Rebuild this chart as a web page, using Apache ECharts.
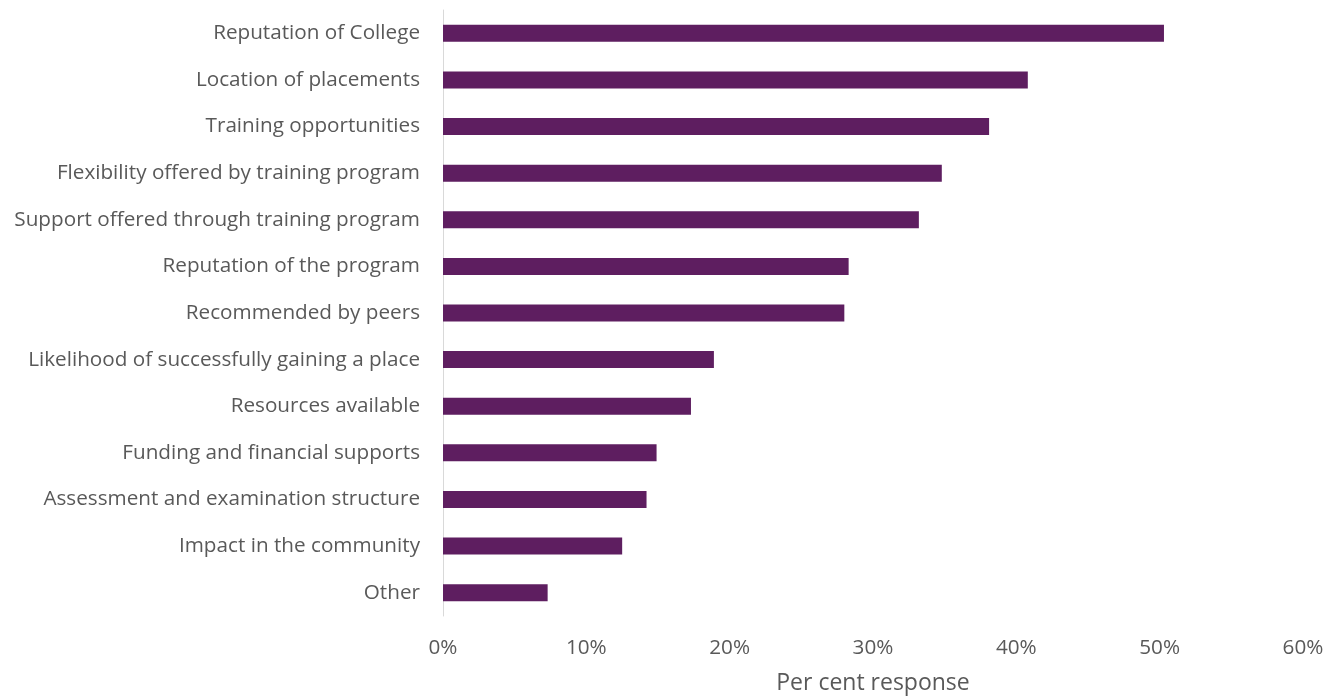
<!DOCTYPE html>
<html>
<head>
<meta charset="utf-8">
<script src="https://cdn.jsdelivr.net/npm/echarts@6/dist/echarts.min.js"></script>
<style>
  html, body { margin: 0; padding: 0; background: #fff; }
  #chart { width: 1327px; height: 700px; }
</style>
</head>
<body>
<div id="chart"></div>
<script>
// Reasons for choosing a training program, ordered top to bottom
const categories = [
  'Reputation of College',
  'Location of placements',
  'Training opportunities',
  'Flexibility offered by training program',
  'Support offered through training program',
  'Reputation of the program',
  'Recommended by peers',
  'Likelihood of successfully gaining a place',
  'Resources available',
  'Funding and financial supports',
  'Assessment and examination structure',
  'Impact in the community',
  'Other'
];

// Per cent of respondents selecting each reason
const responses = [50.3, 40.8, 38.1, 34.8, 33.2, 28.3, 28.0, 18.9, 17.3, 14.9, 14.2, 12.5, 7.3];

const xTicks = [0, 10, 20, 30, 40, 50, 60];

const textColor = '#595959';
const fontFamily = '"Open Sans", sans-serif';

const chart = echarts.init(document.getElementById('chart'), null, { renderer: 'canvas' });

chart.setOption({
  animation: false,
  grid: { left: 443, right: 24, top: 10, bottom: 82, containLabel: false },
  xAxis: {
    type: 'value',
    min: xTicks[0],
    max: xTicks[xTicks.length - 1],
    interval: 10,
    name: 'Per cent response',
    nameLocation: 'middle',
    nameGap: 56,
    nameTextStyle: { color: textColor, fontSize: 23, fontFamily: fontFamily },
    axisLine: { show: false },
    axisTick: { show: false },
    splitLine: { show: false },
    axisLabel: {
      color: textColor,
      fontSize: 20.7,
      fontFamily: fontFamily,
      margin: 22,
      formatter: v => v + '%'
    }
  },
  yAxis: {
    type: 'category',
    data: categories,
    inverse: true,
    axisLine: { show: true, lineStyle: { color: '#d9d9d9', width: 1 } },
    axisTick: { show: false },
    axisLabel: {
      color: textColor,
      fontSize: 20.7,
      fontFamily: fontFamily,
      margin: 23
    }
  },
  series: [{
    type: 'bar',
    data: responses,
    barWidth: 17,
    itemStyle: { color: '#5e1e60' }
  }]
});
</script>
</body>
</html>
